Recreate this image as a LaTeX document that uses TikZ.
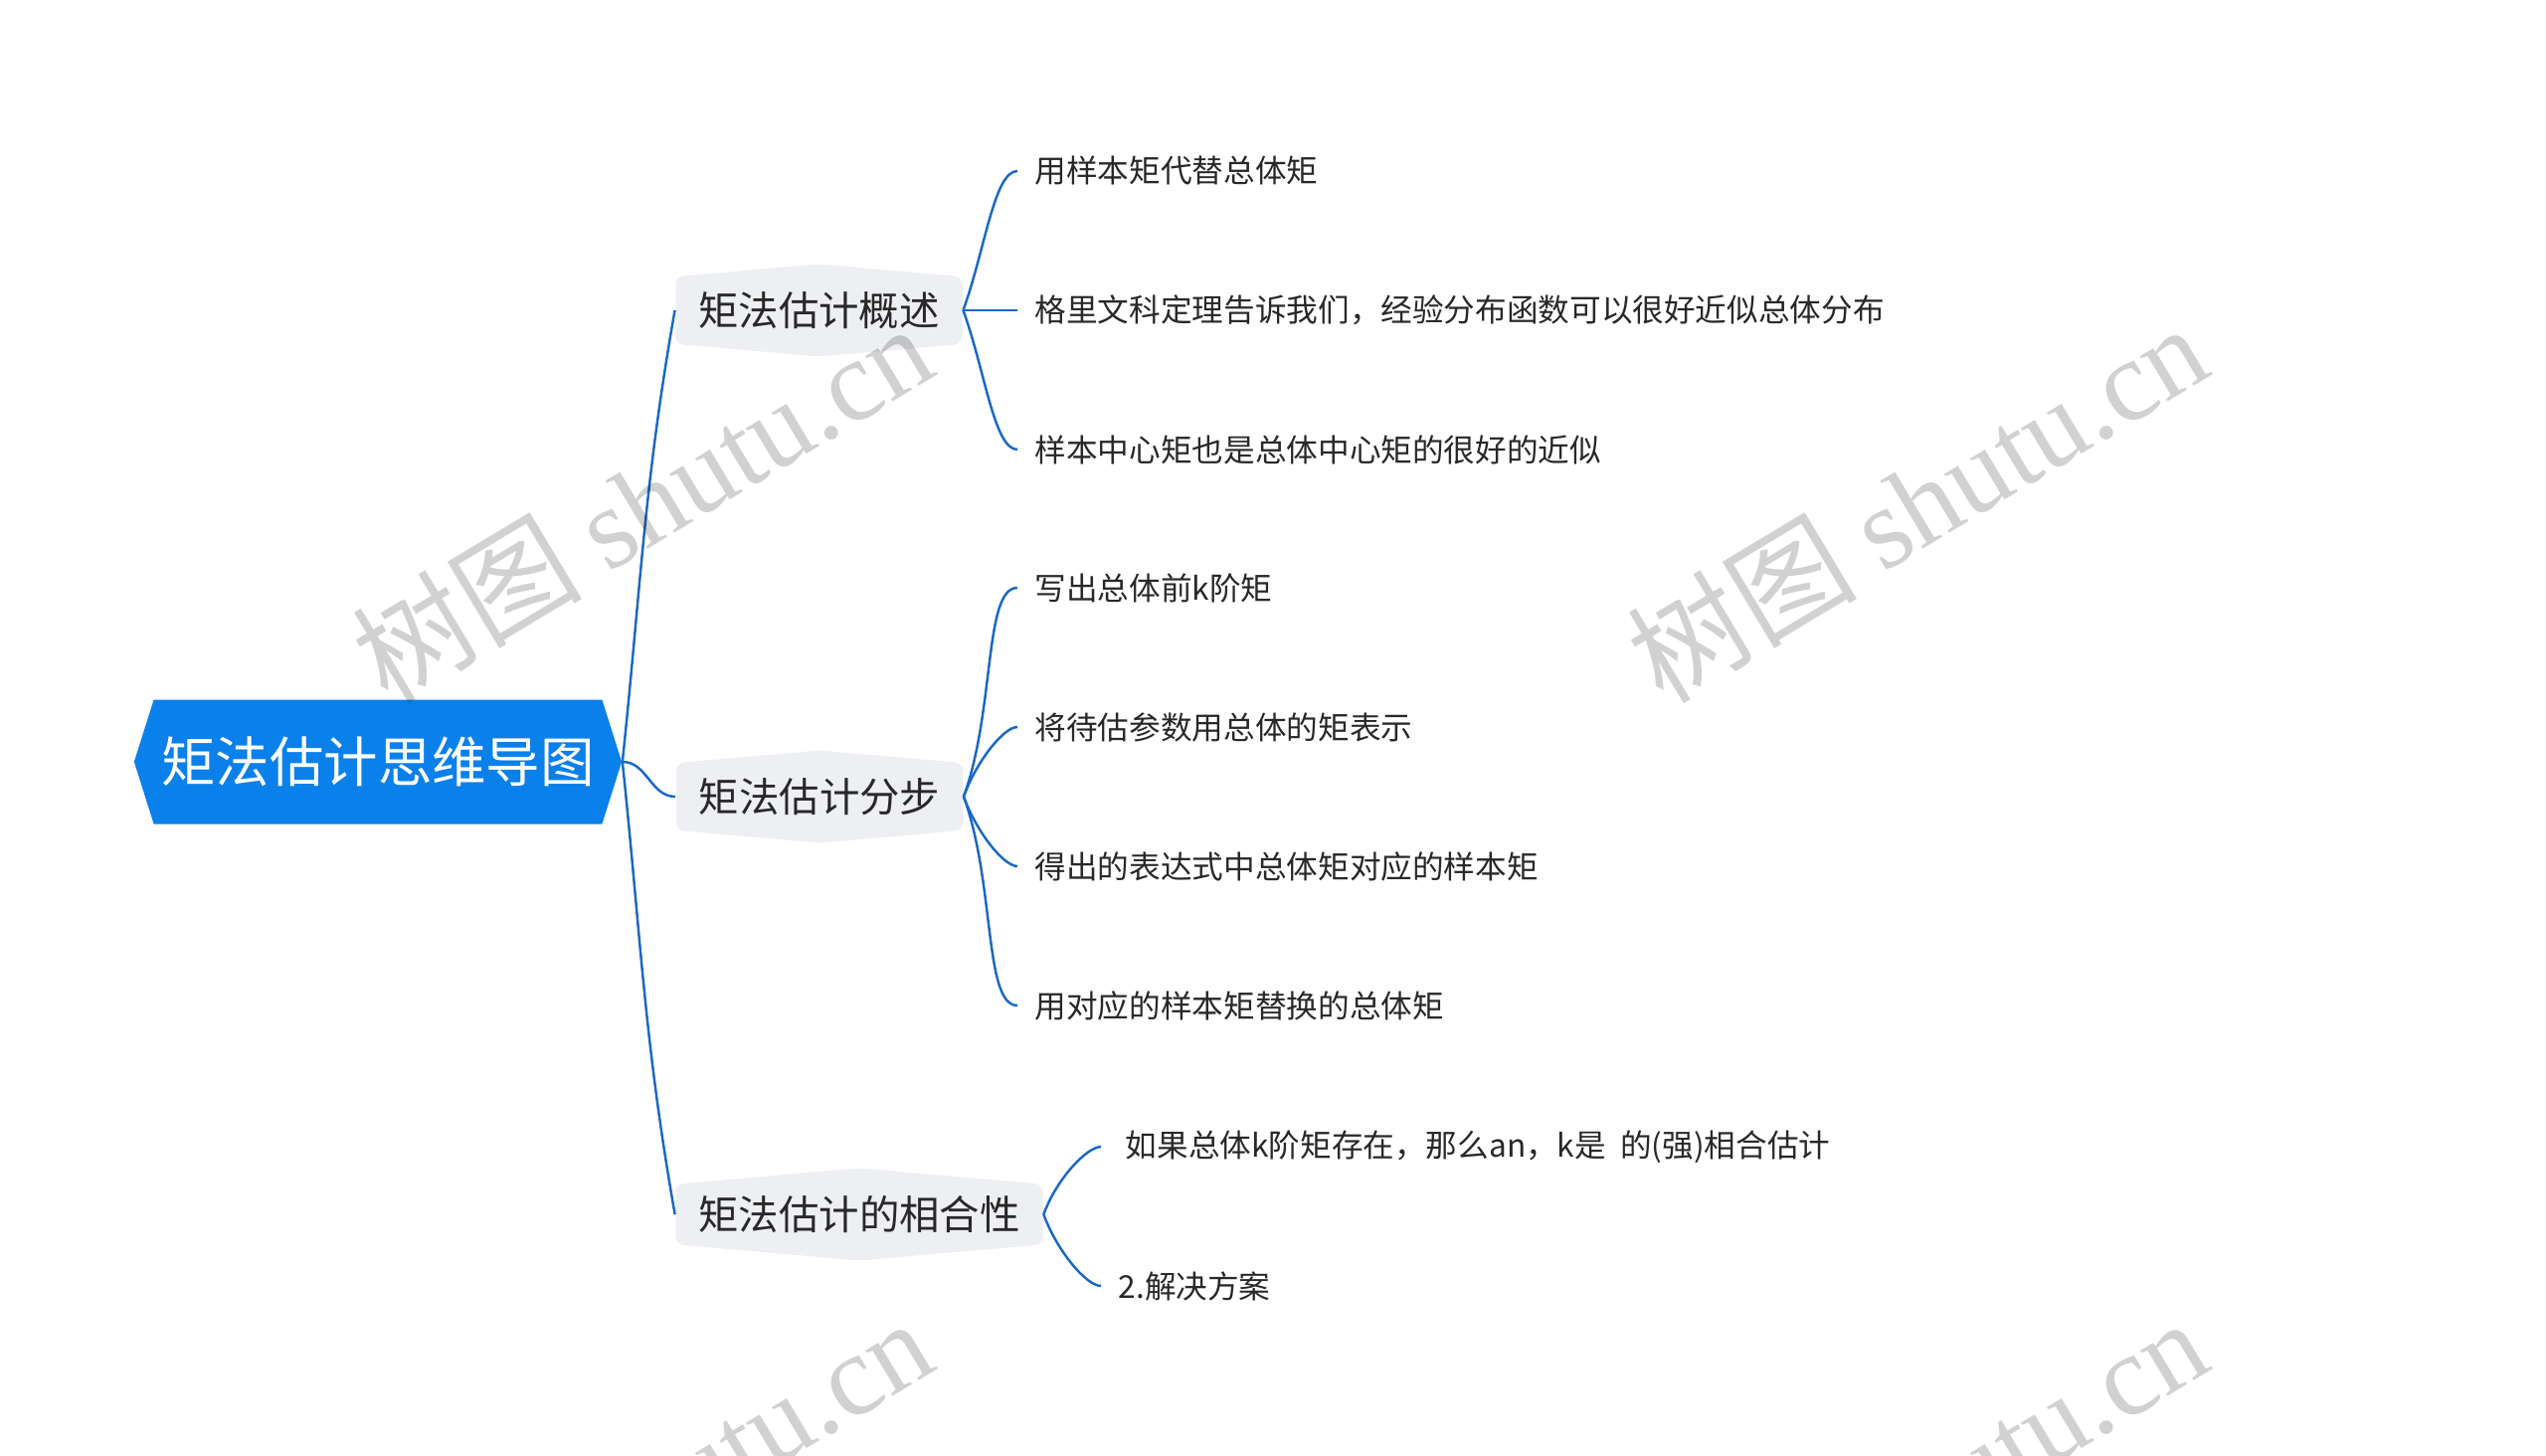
\documentclass[tikz,border=0pt]{standalone}
\usepackage{fontspec}
\setmainfont{Noto Sans CJK SC}
\newfontfamily\wmserif{Liberation Serif}
\usetikzlibrary{shapes.symbols}
\definecolor{rootblue}{RGB}{10,128,234}
\definecolor{linkblue}{RGB}{26,104,196}
\definecolor{boxgray}{RGB}{237,239,242}
\definecolor{textdark}{RGB}{40,40,40}
\tikzset{
  rootbox/.style={signal, signal to=west and east, signal pointer angle=145,
    fill=rootblue, text=white, font=\fontsize{15.5}{18}\selectfont,
    inner xsep=0.075cm, inner ysep=0pt, minimum height=1.25cm},
  topicbox/.style={signal, signal to=north and south, signal pointer angle=170,
    fill=boxgray, text=textdark, rounded corners=0.08cm,
    font=\fontsize{11.5}{14}\selectfont, inner xsep=0.23cm, inner ysep=0pt,
    minimum height=0.93cm},
  leaf/.style={anchor=west, text=textdark, font=\fontsize{9}{11}\selectfont,
    inner xsep=0.17cm, inner ysep=1pt},
  link/.style={draw=linkblue, line width=0.7pt},
  bendup/.style={out=70, in=180, out looseness=1.1, in looseness=0.4},
  benddown/.style={out=-70, in=180, out looseness=1.1, in looseness=0.4},
  wmark/.style={rotate=31, text=black, text opacity=0.18,
    font=\fontsize{33}{36}\selectfont},
}
\begin{document}
\begin{tikzpicture}
  \useasboundingbox (0,0) rectangle (25.6,-14.63);
  \clip (0,0) rectangle (25.6,-14.63);
  % 中心主题
  \node[rootbox] (root) at (3.80,-7.66) {矩法估计思维导图};
  % 分支
  \node[topicbox] (gs) at (8.235,-3.12) {矩法估计概述};
  \node[topicbox] (fb) at (8.24,-8.01) {矩法估计分步};
  \node[topicbox] (xh) at (8.64,-12.21) {矩法估计的相合性};
  % 矩法估计概述
  \node[leaf] (gs1) at (10.23,-1.72) {用样本矩代替总体矩};
  \node[leaf] (gs2) at (10.23,-3.12) {格里文科定理告诉我们，经验分布函数可以很好近似总体分布};
  \node[leaf] (gs3) at (10.23,-4.52) {样本中心矩也是总体中心矩的很好的近似};
  % 矩法估计分步
  \node[leaf] (fb1) at (10.23,-5.91) {写出总体前k阶矩};
  \node[leaf] (fb2) at (10.23,-7.31) {将待估参数用总体的矩表示};
  \node[leaf] (fb3) at (10.23,-8.71) {得出的表达式中总体矩对应的样本矩};
  \node[leaf] (fb4) at (10.23,-10.11) {用对应的样本矩替换的总体矩};
  % 矩法估计的相合性
  \node[leaf] (xh1) at (11.07,-11.53) {\ 如果总体k阶矩存在，那么an，k是~~的(强)相合估计};
  \node[leaf] (xh2) at (11.07,-12.93) {2.解决方案};
  % 连线
  \draw[link] (root.east) to[out=84,in=-100] (gs.west);
  \draw[link] (root.east) to[out=0,in=180] (fb.west);
  \draw[link] (root.east) to[out=-84,in=100] (xh.west);
  \draw[link] (gs.east) to[bendup] (gs1.west);
  \draw[link] (gs.east) -- (gs2.west);
  \draw[link] (gs.east) to[benddown] (gs3.west);
  \draw[link] (fb.east) to[bendup] (fb1.west);
  \draw[link] (fb.east) to[bendup] (fb2.west);
  \draw[link] (fb.east) to[benddown] (fb3.west);
  \draw[link] (fb.east) to[benddown] (fb4.west);
  \draw[link] (xh.east) to[bendup] (xh1.west);
  \draw[link] (xh.east) to[benddown] (xh2.west);
  % 水印
  \node[wmark] (wm1) at (6.45,-5.05) {树图 {\wmserif shutu.cn}};
  \node[wmark] (wm2) at (19.27,-5.05) {树图 {\wmserif shutu.cn}};
  \node[wmark] (wm3) at (6.45,-15.05) {树图 {\wmserif shutu.cn}};
  \node[wmark] (wm4) at (19.27,-15.05) {树图 {\wmserif shutu.cn}};
\end{tikzpicture}
\end{document}
